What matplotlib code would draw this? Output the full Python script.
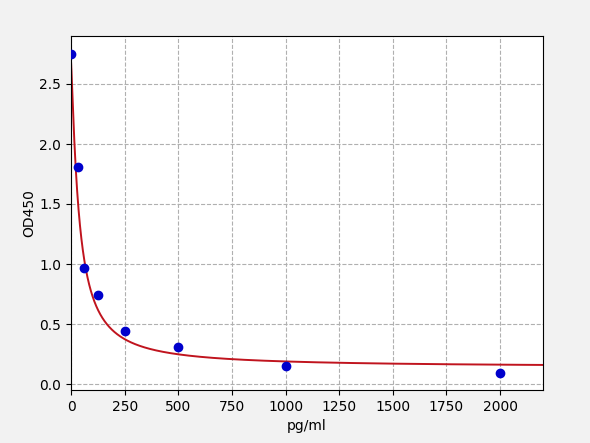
import numpy as np
import matplotlib
matplotlib.use("Agg")
import matplotlib.pyplot as plt

# Standard points
conc = [0, 31.25, 62.5, 125, 250, 500, 1000, 2000]
od450 = [2.75, 1.81, 0.97, 0.74, 0.44, 0.31, 0.15, 0.09]

# 4PL fit parameters (estimated from the drawn curve)
fit_a = 2.69
fit_d = 0.14
fit_b = 1.2
fit_c = 37.0


def four_pl(x):
    return fit_d + (fit_a - fit_d) / (1 + (x / fit_c) ** fit_b)


xs = np.linspace(0, 2200, 2000)

fig = plt.figure(figsize=(5.9, 4.43), dpi=100, facecolor="#f2f2f2")
ax = fig.add_axes([71 / 590, 53 / 443, 472 / 590, 354 / 443])

ax.plot(xs, four_pl(xs), color="#c0141e", linewidth=1.4, zorder=2)
ax.plot(conc, od450, "o", color="#0000cc", markersize=6, zorder=3)

ax.set_xlim(0, 2200)
ax.set_ylim(-0.05, 2.9)
ax.set_xticks(range(0, 2001, 250))
ax.set_yticks([0.0, 0.5, 1.0, 1.5, 2.0, 2.5])
ax.tick_params(labelsize=10)

ax.set_xlabel("pg/ml", fontsize=10)
ax.set_ylabel("OD450", fontsize=10, labelpad=2)

ax.grid(True, linestyle="--", color="#b0b0b0", linewidth=0.8)

fig.savefig("out.png", dpi=100, facecolor=fig.get_facecolor())
